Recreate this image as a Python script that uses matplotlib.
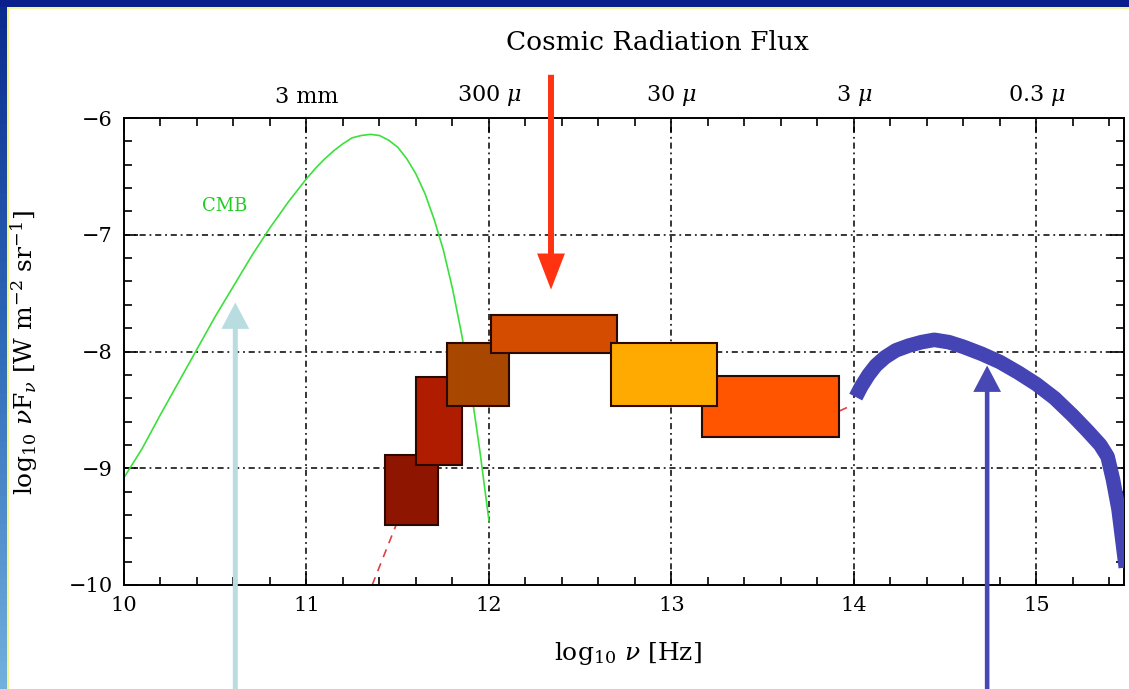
import matplotlib
matplotlib.use('Agg')
import matplotlib.pyplot as plt
import numpy as np
from matplotlib.patches import Rectangle, FancyArrowPatch
from matplotlib.colors import LinearSegmentedColormap

plt.rcParams['font.family'] = ['DejaVu Serif']
plt.rcParams['mathtext.fontset'] = 'dejavuserif'

# CMB blackbody
cmb_lognu = [10.0, 10.1, 10.2, 10.3, 10.4, 10.5, 10.6, 10.7, 10.8, 10.9, 11.0,
             11.05, 11.1, 11.15, 11.2, 11.25, 11.3, 11.35, 11.4, 11.45, 11.5,
             11.55, 11.6, 11.65, 11.7, 11.75, 11.8, 11.85, 11.9, 11.95, 12.0]
cmb_flux = [-9.08, -8.83, -8.54, -8.26, -7.98, -7.70, -7.44, -7.18, -6.94, -6.72, -6.52,
            -6.43, -6.35, -6.28, -6.22, -6.17, -6.15, -6.14, -6.15, -6.19, -6.25,
            -6.35, -6.48, -6.65, -6.87, -7.13, -7.46, -7.85, -8.31, -8.85, -9.45]

# optical / near-IR background (thick blue)
star_lognu = [14.01, 14.04, 14.08, 14.12, 14.17, 14.23, 14.30, 14.37, 14.44, 14.52,
              14.60, 14.70, 14.80, 14.90, 15.00, 15.10, 15.20, 15.28, 15.35, 15.39,
              15.42, 15.45, 15.47, 15.49]
star_flux = [-8.39, -8.30, -8.20, -8.12, -8.05, -7.99, -7.95, -7.92, -7.90, -7.92,
             -7.96, -8.02, -8.09, -8.18, -8.28, -8.40, -8.55, -8.68, -8.80, -8.90,
             -9.10, -9.35, -9.60, -9.85]

# red dashed model bits that peek out from under the boxes
model_lognu_a = [11.36, 11.49]
model_flux_a = [-10.0, -9.49]
model_lognu_b = [13.92, 13.99]
model_flux_b = [-8.51, -8.46]

# infrared background boxes (in drawing order)
box_lo_nu = [11.43, 11.60, 11.77, 12.01, 13.17, 12.67]
box_hi_nu = [11.72, 11.85, 12.11, 12.70, 13.92, 13.25]
box_lo_f = [-9.49, -8.97, -8.47, -8.01, -8.73, -8.47]
box_hi_f = [-8.89, -8.22, -7.93, -7.69, -8.21, -7.93]
box_colors = ['#8e1600', '#b01c00', '#a84700', '#d44c00', '#ff5500', '#ffaa00']

# wavelength labels on top
top_ticks = [11, 12, 13, 14, 15]
top_labels = ['3 mm', r'300 $\mu$', r'30 $\mu$', r'3 $\mu$', r'0.3 $\mu$']

# arrows: x position, tip, tail (data units)
arrow_x = [12.34, 10.61, 14.73]
arrow_tip = [-7.47, -7.58, -8.12]
arrow_tail = [-5.63, -10.92, -10.92]
arrow_colors = ['#ff3311', '#b8dce0', '#4848b4']
arrow_head_len = [26, 19, 19]
arrow_head_wid = [20, 20, 20]
arrow_tail_wid = [4.3, 3.6, 3.3]

fig = plt.figure(figsize=(11.29, 6.89), dpi=100)
fig.patch.set_facecolor('white')

# slide frame
fig.add_artist(Rectangle((0, 1 - 7/689.), 1, 7/689., transform=fig.transFigure,
                         color='#0a1f8c', lw=0))
fig.add_artist(Rectangle((7/1129., 1 - 9/689.), 1, 2/689., transform=fig.transFigure,
                         color='#f6f6a0', lw=0))
fig.add_artist(Rectangle((7/1129., 0), 2/1129., 1 - 7/689., transform=fig.transFigure,
                         color='#f4f48a', lw=0))
bax = fig.add_axes([0, 0, 7/1129., 1])
cm = LinearSegmentedColormap.from_list('frame', ['#0a2a8e', '#2f6ab8', '#72b0de'])
bax.imshow(np.linspace(0, 1, 100).reshape(-1, 1), aspect='auto', cmap=cm)
bax.axis('off')

ax = fig.add_axes([124/1129., 104/689., 1000/1129., 467/689.])
ax.set_xlim(10, 15.48)
ax.set_ylim(-10, -6)

for g in [11, 12, 13, 14, 15]:
    ax.axvline(g, color='black', lw=1.1, dashes=(4, 2.5, 1.2, 2.5), zorder=1)
for g in [-7, -8, -9]:
    ax.axhline(g, color='black', lw=1.1, dashes=(4, 2.5, 1.2, 2.5), zorder=1)

ax.plot(cmb_lognu, cmb_flux, color='#3ce03c', lw=1.2, zorder=2)
ax.text(10.55, -6.75, 'CMB', color='#22cc22', fontsize=13, ha='center', va='center')

ax.plot(model_lognu_a, model_flux_a, color='#e04040', lw=1.2, dashes=(5, 4), zorder=2)
ax.plot(model_lognu_b, model_flux_b, color='#e04040', lw=1.2, dashes=(5, 4), zorder=2)

for x0, x1, y0, y1, c in zip(box_lo_nu, box_hi_nu, box_lo_f, box_hi_f, box_colors):
    ax.add_patch(Rectangle((x0, y0), x1 - x0, y1 - y0, facecolor=c,
                           edgecolor='#2a0a00', lw=1.5, zorder=3))

ax.plot(star_lognu, star_flux, color='#4444b4', lw=10.5, solid_capstyle='butt',
        solid_joinstyle='round', zorder=4)

for x, tip, tail, c, hl, hw, tw in zip(arrow_x, arrow_tip, arrow_tail, arrow_colors,
                                      arrow_head_len, arrow_head_wid, arrow_tail_wid):
    arr = FancyArrowPatch((x, tail), (x, tip),
                          arrowstyle='simple,head_length=%g,head_width=%g,tail_width=%g'
                          % (hl, hw, tw),
                          mutation_scale=1, lw=0, color=c, shrinkA=0, shrinkB=0,
                          clip_on=False, zorder=6)
    ax.add_patch(arr)

ax.set_xticks([10, 11, 12, 13, 14, 15])
ax.set_yticks([-10, -9, -8, -7, -6])
ax.set_yticklabels(['\u221210', '\u22129', '\u22128', '\u22127', '\u22126'])
ax.set_xticks(np.arange(10, 15.5, 0.2), minor=True)
ax.set_yticks(np.arange(-10, -5.9, 0.2), minor=True)
ax.tick_params(which='both', direction='in', top=True, right=True, labelsize=15, width=1.2)
ax.tick_params(which='major', length=10, pad=8)
ax.tick_params(which='minor', length=6)
for s in ax.spines.values():
    s.set_linewidth(1.4)

secax = ax.secondary_xaxis('top')
secax.set_xticks(top_ticks, labels=top_labels)
secax.tick_params(length=0, pad=7, labelsize=16)
secax.spines['top'].set_visible(False)

ax.set_xlabel(r'log$_{10}$ $\nu$ [Hz]', fontsize=18)
ax.xaxis.set_label_coords(0.504, -0.118)
ax.set_ylabel(r'log$_{10}$ $\nu$F$_\nu$ [W m$^{-2}$ sr$^{-1}$]', fontsize=18)
ax.yaxis.set_label_coords(-0.084, 0.497)

fig.text(657/1129., 1 - 42/689., 'Cosmic Radiation Flux', fontsize=19,
         ha='center', va='center')

fig.savefig('out.png', dpi=100, facecolor='white')
